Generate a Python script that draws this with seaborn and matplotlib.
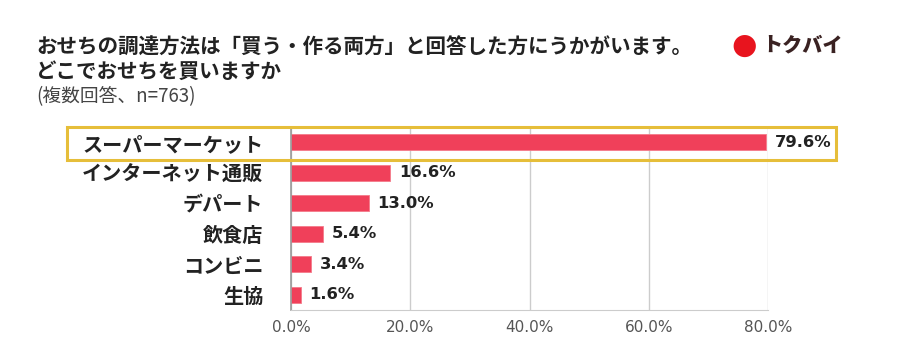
import matplotlib

matplotlib.use("Agg")
import matplotlib.pyplot as plt
import numpy as np
import pandas as pd
import seaborn as sns
from matplotlib.patches import Rectangle

sns.set_style("white")
plt.rcParams["font.family"] = ["Noto Sans CJK JP", "DejaVu Sans"]

categories = ["スーパーマーケット", "インターネット通販", "デパート", "飲食店", "コンビニ", "生協"]
values = [79.6, 16.6, 13.0, 5.4, 3.4, 1.6]
xticks = [0, 20, 40, 60, 80]

df = pd.DataFrame({"store": categories, "pct": values})

fig = plt.figure(figsize=(8.97, 3.55), dpi=100)
ax = fig.add_axes([291 / 897, 1 - 310 / 355, 477 / 897, 183 / 355])

sns.barplot(
    data=df,
    x="pct",
    y="store",
    color="#F0405A",
    saturation=1,
    width=0.53,
    edgecolor="#F47A8A",
    linewidth=0.6,
    ax=ax,
)
ax.set_xlim(0, 80)
ax.set_ylim(5.5, -0.5)
ax.set_xticks(xticks)
ax.set_xticklabels([f"{t:.1f}%" for t in xticks], fontsize=11, color="#555555",
                   family=["DejaVu Sans"])
ax.set_yticklabels(categories, fontsize=14.5, fontweight="bold", color="#222222")
ax.tick_params(axis="y", length=0, pad=20)
ax.tick_params(axis="x", length=0, pad=7)
ax.set_xlabel("")
ax.set_ylabel("")
ax.xaxis.grid(True, color="#cccccc", linewidth=1)
ax.set_axisbelow(True)
for s in ["top", "right"]:
    ax.spines[s].set_visible(False)
ax.spines["left"].set_color("#999999")
ax.spines["left"].set_linewidth(1.2)
ax.spines["bottom"].set_color("#cccccc")

for i, v in enumerate(values):
    ax.text(v + 1.5, i, f"{v:.1f}%", va="center", ha="left",
            fontsize=11.8, fontweight="bold", color="#222222", family=["DejaVu Sans"])

# highlight box around first row
fig.patches.append(Rectangle((67 / 897, 1 - 160 / 355), 769 / 897, 33 / 355,
                             transform=fig.transFigure, fill=False,
                             edgecolor="#E6BE3A", linewidth=2.2))

fig.text(36 / 897, 1 - 47 / 355, "おせちの調達方法は「買う・作る両方」と回答した方にうかがいます。",
         fontsize=14.8, fontweight="bold", color="#222222", va="center")
fig.text(36 / 897, 1 - 71 / 355, "どこでおせちを買いますか",
         fontsize=14.8, fontweight="bold", color="#222222", va="center")
fig.text(36 / 897, 1 - 97 / 355, "(複数回答、n=763)",
         fontsize=13.5, color="#444444", va="center")

# logo
fig.text(744 / 897, 1 - 46 / 355, "●", fontsize=21, color="#E8141E",
         ha="center", va="center", family=["DejaVu Sans"])
fig.text(762 / 897, 1 - 45 / 355, "トクバイ", fontsize=14.5, fontweight="heavy",
         color="#3A2222", ha="left", va="center")

fig.savefig("out.png", dpi=100, facecolor="white")
